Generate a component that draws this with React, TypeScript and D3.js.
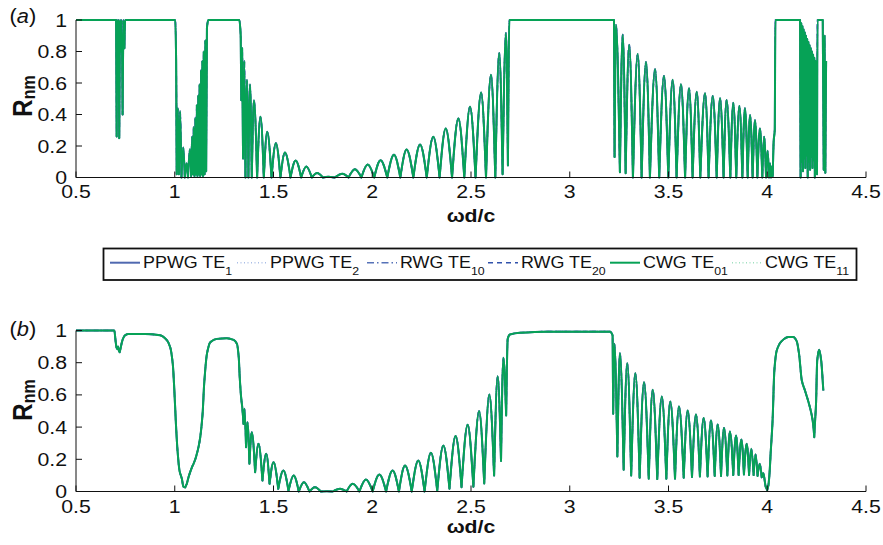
import React from 'react';
import * as d3 from 'd3';

// ---------------- data ----------------
const xTickValues = [0.5, 1, 1.5, 2, 2.5, 3, 3.5, 4, 4.5];
const xTickLabels = ['0.5', '1', '1.5', '2', '2.5', '3', '3.5', '4', '4.5'];
const yTickValues = [0, 0.2, 0.4, 0.6, 0.8, 1];
const yTickLabels = ['0', '0.2', '0.4', '0.6', '0.8', '1'];

const seriesNames = ['PPWG TE', 'PPWG TE', 'RWG TE', 'RWG TE', 'CWG TE', 'CWG TE'];
const seriesSubs = ['1', '2', '10', '20', '01', '11'];

// Panel (a): [ωd/c, R_nm] — all six modes coincide on this curve
const panelA_band1: [number, number][] = [
  [0.5, 1], [0.703, 1], [0.706, 0.26], [0.709, 1], [0.712, 0.62], [0.715, 1], [0.719, 0.25],
  [0.724, 1], [0.728, 0.8], [0.731, 1], [0.736, 0.4], [0.741, 1], [0.745, 0.82], [0.749, 1],
  [1.003, 1], [1.007, 0.74], [1.01, 0.02], [1.016, 0.44], [1.021, 0.02], [1.027, 0.42],
  [1.034, 0], [1.043, 0.19], [1.051, 0], [1.06, 0.09], [1.067, 0], [1.077, 0.18], [1.083, 0.01],
  [1.088, 0.26], [1.092, 0.02], [1.096, 0.32], [1.1, 0.01], [1.104, 0.38], [1.108, 0.02],
  [1.112, 0.46], [1.115, 0.01], [1.119, 0.52], [1.122, 0.02], [1.126, 0.59], [1.129, 0.01],
  [1.133, 0.68], [1.136, 0.02], [1.14, 0.74], [1.143, 0.01], [1.147, 0.8], [1.151, 0.02],
  [1.155, 0.87], [1.159, 0.04], [1.163, 0.95], [1.17, 1], [1.327, 1],
];
const panelA_band2: [number, number][] = [
  [1.334, 0.9], [1.337, 0.49], [1.341, 0.82], [1.346, 0.12], [1.352, 0.74], [1.358, 0],
  [1.366, 0.62], [1.373, 0], [1.381, 0.59], [1.39, 0], [1.401, 0.49], [1.417, 0], [1.434, 0.385],
  [1.451, 0], [1.468, 0.29], [1.49, 0], [1.512, 0.218], [1.535, 0], [1.558, 0.158], [1.586, 0],
  [1.612, 0.108], [1.64, 0], [1.666, 0.07], [1.694, 0], [1.721, 0.028], [1.75, 0], [1.777, 0.004],
  [1.81, 0], [1.849, 0.024], [1.88, 0], [1.912, 0.052], [1.945, 0], [1.977, 0.082], [2.01, 0],
  [2.042, 0.11], [2.076, 0], [2.11, 0.145], [2.142, 0], [2.174, 0.177], [2.208, 0], [2.242, 0.21],
  [2.276, 0], [2.309, 0.258], [2.341, 0], [2.372, 0.311], [2.404, 0], [2.436, 0.375], [2.466, 0],
  [2.495, 0.449], [2.523, 0], [2.551, 0.539], [2.576, 0], [2.601, 0.652], [2.623, 0], [2.643, 0.79],
  [2.66, 0.02], [2.677, 0.918], [2.687, 0.077], [2.694, 1], [3.224, 1],
];
const panelA_band3: [number, number][] = [
  [3.227, 0.13], [3.234, 0.97], [3.254, 0.034], [3.268, 0.907], [3.283, 0.027], [3.301, 0.843],
  [3.32, 0], [3.344, 0.784], [3.364, 0], [3.386, 0.733], [3.406, 0], [3.432, 0.688], [3.453, 0],
  [3.477, 0.645], [3.499, 0], [3.521, 0.62], [3.541, 0], [3.563, 0.592], [3.584, 0], [3.604, 0.567],
  [3.622, 0], [3.643, 0.545], [3.661, 0], [3.685, 0.535], [3.703, 0], [3.724, 0.518], [3.744, 0],
  [3.761, 0.503], [3.779, 0], [3.794, 0.492], [3.813, 0], [3.828, 0.475], [3.843, 0], [3.859, 0.454],
  [3.874, 0], [3.887, 0.439], [3.901, 0], [3.913, 0.396], [3.926, 0], [3.938, 0.364], [3.95, 0],
  [3.963, 0.311], [3.975, 0], [3.984, 0.258], [3.994, 0], [4.002, 0.17], [4.009, 0], [4.014, 0.09],
  [4.019, 0], [4.024, 0.07], [4.028, 0.01], [4.033, 0.24], [4.038, 0.3], [4.041, 1], [4.166, 1],
  [4.169, 0], [4.172, 0.98], [4.175, 0.1], [4.178, 0.96], [4.181, 0.04], [4.184, 0.94], [4.187, 0.12],
  [4.19, 0.92], [4.193, 0.06], [4.196, 0.9], [4.199, 0.14], [4.202, 0.88], [4.205, 0], [4.208, 0.86],
  [4.211, 0.1], [4.214, 0.84], [4.217, 0.05], [4.22, 0.82], [4.223, 0.13], [4.226, 0.8], [4.229, 0.06],
  [4.232, 0.78], [4.235, 0.11], [4.238, 0.76], [4.241, 0], [4.244, 0.74], [4.247, 0.03], [4.25, 0.72],
  [4.252, 0.02], [4.254, 1], [4.281, 1], [4.286, 0.05], [4.29, 0.9], [4.294, 0.03], [4.298, 0.74],
];

// Panel (b): [ωd/c, R_nm]
const panelB_band1: [number, number][] = [
  [0.5, 1], [0.694, 1], [0.7, 0.94], [0.705, 0.895], [0.709, 0.885], [0.713, 0.9], [0.717, 0.875],
  [0.721, 0.865], [0.726, 0.89], [0.731, 0.92], [0.738, 0.95], [0.748, 0.97], [0.765, 0.978],
  [0.85, 0.978], [0.926, 0.97], [0.96, 0.94], [0.977, 0.896], [0.99, 0.793], [0.998, 0.627],
  [1.006, 0.42], [1.014, 0.255], [1.024, 0.13], [1.036, 0.079], [1.044, 0.03], [1.053, 0.025],
  [1.061, 0.048], [1.07, 0.09], [1.078, 0.12], [1.087, 0.15], [1.095, 0.172], [1.104, 0.2],
  [1.112, 0.234], [1.121, 0.28], [1.129, 0.337], [1.141, 0.483], [1.149, 0.669], [1.163, 0.855],
  [1.18, 0.927], [1.213, 0.948], [1.264, 0.952], [1.298, 0.942], [1.315, 0.917], [1.324, 0.834],
  [1.329, 0.71], [1.336, 0.586], [1.342, 0.52], [1.348, 0.42], [1.353, 0.514], [1.361, 0.275],
  [1.368, 0.43], [1.378, 0.172], [1.39, 0.368], [1.407, 0.12], [1.424, 0.296], [1.444, 0.068],
  [1.463, 0.234], [1.48, 0.048], [1.5, 0.182], [1.524, 0.017], [1.55, 0.13], [1.576, 0.004],
];
const panelB_band2: [number, number][] = [
  [1.602, 0.099], [1.628, 0], [1.654, 0.058], [1.682, 0], [1.71, 0.027], [1.74, 0], [1.77, 0.002],
  [1.8, 0], [1.837, 0.017], [1.87, 0], [1.901, 0.048], [1.935, 0], [1.968, 0.075], [2.002, 0],
  [2.036, 0.106], [2.07, 0], [2.103, 0.13], [2.135, 0], [2.166, 0.161], [2.2, 0], [2.233, 0.193],
  [2.265, 0], [2.297, 0.24], [2.329, 0.005], [2.36, 0.286], [2.391, 0.017], [2.422, 0.344],
  [2.452, 0.027], [2.483, 0.414], [2.512, 0.03], [2.541, 0.499], [2.567, 0.05], [2.593, 0.602],
  [2.617, 0.1], [2.635, 0.716], [2.652, 0.19], [2.664, 0.83], [2.678, 0.472], [2.686, 0.948],
  [2.697, 0.975], [2.747, 0.986], [2.882, 0.993], [3.204, 0.993],
];
const panelB_band3: [number, number][] = [
  [3.217, 0.969], [3.22, 0.483], [3.226, 0.917], [3.241, 0.217], [3.254, 0.859], [3.273, 0.135],
  [3.291, 0.797], [3.311, 0.099], [3.332, 0.735], [3.354, 0.085], [3.376, 0.679], [3.4, 0.079],
  [3.42, 0.632], [3.443, 0.077], [3.466, 0.59], [3.489, 0.079], [3.509, 0.559], [3.533, 0.08],
  [3.553, 0.528], [3.577, 0.085], [3.597, 0.503], [3.619, 0.09], [3.639, 0.478], [3.659, 0.093],
  [3.678, 0.457], [3.698, 0.093], [3.715, 0.441], [3.734, 0.097], [3.749, 0.416], [3.766, 0.097],
  [3.781, 0.395], [3.798, 0.1], [3.811, 0.373], [3.828, 0.102], [3.842, 0.348], [3.855, 0.102],
  [3.869, 0.323], [3.882, 0.106], [3.896, 0.296], [3.908, 0.102], [3.919, 0.265], [3.931, 0.102],
  [3.941, 0.23], [3.951, 0.097], [3.962, 0.172], [3.972, 0.088], [3.98, 0.114], [3.992, 0.03],
  [4.0, 0.008], [4.006, 0.04], [4.012, 0.12], [4.017, 0.234], [4.027, 0.441], [4.036, 0.752],
  [4.048, 0.876], [4.073, 0.934], [4.107, 0.959], [4.132, 0.959], [4.149, 0.934], [4.161, 0.855],
  [4.175, 0.689], [4.191, 0.627], [4.216, 0.524], [4.23, 0.441], [4.238, 0.337], [4.247, 0.545],
  [4.253, 0.814], [4.263, 0.88], [4.273, 0.814], [4.284, 0.627],
];

const panelA = [...panelA_band1, ...panelA_band2, ...panelA_band3];
const panelB = [...panelB_band1, ...panelB_band2, ...panelB_band3];

// ---------------- styles ----------------
const FONT = '"Liberation Sans", Arial, Helvetica, sans-serif';
const SX = 1.12; // horizontal stretch of the reference glyphs
const seriesStyles = [
  { color: '#5069b0', dash: null, width: 2 },
  { color: '#a9bde6', dash: '1,2.5', width: 1.6 },
  { color: '#5672b8', dash: '7,3,1.5,3', width: 1.6 },
  { color: '#3152ab', dash: '5,4', width: 1.6 },
  { color: '#06a256', dash: null, width: 2 },
  { color: '#9fe0bf', dash: '1,2.5', width: 1.6 },
];
const drawOrder = [5, 3, 2, 1, 0, 4];

// custom d3 curve: rounded maxima, cusp-like minima, monotone elsewhere
function curveArch(context: any) {
  let xs: number[] = [];
  let ys: number[] = [];
  return {
    areaStart() {},
    areaEnd() {},
    lineStart() { xs = []; ys = []; },
    point(x: number, y: number) { xs.push(+x); ys.push(+y); },
    lineEnd() {
      const n = xs.length;
      if (!n) return;
      context.moveTo(xs[0], ys[0]);
      if (n === 1) return;
      const seg: number[] = [];
      for (let i = 0; i < n - 1; i++) {
        const dx = xs[i + 1] - xs[i];
        seg.push(dx ? (ys[i + 1] - ys[i]) / dx : 0);
      }
      const tl: number[] = [], tr: number[] = [];
      for (let i = 0; i < n; i++) {
        if (i === 0) { tl[i] = tr[i] = seg[0]; continue; }
        if (i === n - 1) { tl[i] = tr[i] = seg[n - 2]; continue; }
        const y = ys[i], yp = ys[i - 1], yn = ys[i + 1];
        const sL = seg[i - 1], sR = seg[i];
        if (y <= yp && y <= yn) { tl[i] = tr[i] = 0; }
        else if (y >= yp && y >= yn) { tl[i] = 1.5 * sL; tr[i] = 1.5 * sR; }
        else {
          const m = sL * sR <= 0 ? 0 : (2 * sL * sR) / (sL + sR);
          tl[i] = tr[i] = m;
        }
      }
      for (let i = 0; i < n - 1; i++) {
        const dx = xs[i + 1] - xs[i];
        context.bezierCurveTo(
          xs[i] + dx / 3, ys[i] + (tr[i] * dx) / 3,
          xs[i + 1] - dx / 3, ys[i + 1] - (tl[i + 1] * dx) / 3,
          xs[i + 1], ys[i + 1]
        );
      }
    },
  };
}

const X0 = 76, X1 = 866;

const panels = [
  { key: 'a', letter: 'a', data: panelA, top: 20, bottom: 177.5, labelY: 23, tickBaseline: 198, xLabelY: 222, yLabelCenter: 96 },
  { key: 'b', letter: 'b', data: panelB, top: 330.5, bottom: 491.5, labelY: 336, tickBaseline: 512.5, xLabelY: 533, yLabelCenter: 400 },
];

const legendStarts = [110, 237, 367, 488, 610, 732];

function Txt(props: { x: number; y: number; anchor?: string; size: number; weight?: string; rotate?: boolean; children: any; style?: string }) {
  const { x, y, anchor = 'start', size, weight = 'normal', rotate = false, children, style } = props;
  return (
    <text
      transform={`translate(${x},${y}) scale(${SX},1)${rotate ? ' rotate(-90)' : ''}`}
      textAnchor={anchor}
      fontSize={size}
      fontWeight={weight}
      fontStyle={style}
      fontFamily={FONT}
      fill="#111"
    >
      {children}
    </text>
  );
}

export default function App() {
  const x = d3.scaleLinear().domain([0.5, 4.5]).range([X0, X1]);
  return (
    <div style={{ position: 'absolute', left: 0, top: 0 }}>
      <svg width={883} height={545} style={{ display: 'block', background: '#fff' }}>
        {panels.map((p) => {
          const y = d3.scaleLinear().domain([0, 1]).range([p.bottom, p.top]);
          const line = d3.line<[number, number]>().x((d) => x(d[0])).y((d) => y(d[1])).curve(curveArch as any);
          const path = line(p.data) || '';
          return (
            <g key={p.key}>
              {drawOrder.map((si) => {
                const s = seriesStyles[si];
                return (
                  <path key={si} d={path} fill="none" stroke={s.color} strokeWidth={s.width}
                    strokeDasharray={s.dash || undefined} strokeLinejoin="round" />
                );
              })}
              {/* axes */}
              <line x1={X0} x2={X1} y1={p.bottom} y2={p.bottom} stroke="#111" strokeWidth={1} />
              <line x1={X0} x2={X0} y1={p.top} y2={p.bottom} stroke="#111" strokeWidth={1} />
              {xTickValues.map((v, i) => (
                <g key={'xt' + i}>
                  <line x1={x(v)} x2={x(v)} y1={p.bottom} y2={p.bottom - 6} stroke="#111" strokeWidth={1} />
                  <Txt x={x(v)} y={p.tickBaseline} anchor="middle" size={19}>{xTickLabels[i]}</Txt>
                </g>
              ))}
              {yTickValues.map((v, i) => (
                <g key={'yt' + i}>
                  <line x1={X0} x2={X0 + 6} y1={y(v)} y2={y(v)} stroke="#111" strokeWidth={1} />
                  <Txt x={67} y={y(v) + 6.5} anchor="end" size={19}>{yTickLabels[i]}</Txt>
                </g>
              ))}
              <Txt x={471} y={p.xLabelY} anchor="middle" size={19} weight="bold">ωd/c</Txt>
              <Txt x={31.5} y={p.yLabelCenter} anchor="middle" size={24} weight="bold" rotate>
                R<tspan fontSize={16} dy={3}>nm</tspan>
              </Txt>
              <Txt x={9.5} y={p.labelY} size={19.5}>
                (<tspan fontStyle="italic">{p.letter}</tspan>)
              </Txt>
            </g>
          );
        })}
        {/* legend */}
        <rect x={103.5} y={248.5} width={753} height={31.5} fill="#fff" stroke="#111" strokeWidth={1.8} />
        {seriesNames.map((name, i) => {
          const s = seriesStyles[i];
          const sx = legendStarts[i];
          return (
            <g key={'lg' + i}>
              <line x1={sx} x2={sx + 30} y1={262.7} y2={262.7} stroke={s.color} strokeWidth={s.width}
                strokeDasharray={s.dash || undefined} />
              <Txt x={sx + 33} y={268.3} size={16}>
                {name}<tspan fontSize={11} dy={6.5}>{seriesSubs[i]}</tspan>
              </Txt>
            </g>
          );
        })}
      </svg>
    </div>
  );
}
